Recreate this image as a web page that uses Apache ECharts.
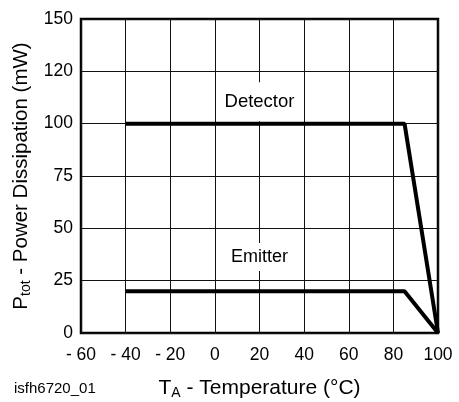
<!DOCTYPE html>
<html><head><meta charset="utf-8">
<script src="https://cdn.jsdelivr.net/npm/echarts@6/dist/echarts.min.js"></script>
<style>html,body{margin:0;padding:0;background:#fff}#c{width:459px;height:402px}</style>
</head><body><div id="c"></div>
<script>
const xTickLabels = ['- 60','- 40','- 20','0','20','40','60','80','100'];
const yTickLabels = ['0','25','50','75','100','120','150'];
const detectorT = [-40, 85, 100];
const detectorP = [100, 100, 0];
const emitterT = [-40, 85, 100];
const emitterP = [20, 20, 0];
const labelNames = ['Detector', 'Emitter'];
const labelT = [20, 20];
const labelP = [110.5, 36.3];

const font = '"Liberation Sans", Arial, Helvetica, sans-serif';
const chart = echarts.init(document.getElementById('c'));
const xMin = -60, xStep = 20, yStep = 25;
const titleRich = (fs) => ({
  m: {fontFamily: font, fontSize: fs, color: '#000'},
  s: {fontFamily: font, fontSize: Math.round(fs * 0.68), color: '#000', verticalAlign: 'bottom', padding: [9, 0, 0, 0]}
});
chart.setOption({
  animation: false,
  backgroundColor: '#fff',
  grid: {left: 81, right: 21, top: 19, bottom: 69, show: true, borderColor: '#000', borderWidth: 2.5,
         backgroundColor: 'transparent', outerBoundsMode: 'none', containLabel: false},
  xAxis: {
    type: 'value', min: -60, max: 100, interval: 20,
    axisLine: {show: false}, axisTick: {show: false},
    splitLine: {show: true, lineStyle: {color: '#111', width: 1}},
    axisLabel: {margin: 13, fontFamily: font, fontSize: 17.5, color: '#000',
      formatter: v => xTickLabels[Math.round((v - xMin) / xStep)]},
    name: '{m|T}{s|A}{m| - Temperature (°C)}', nameLocation: 'middle', nameGap: 44,
    nameTextStyle: {rich: titleRich(21)}
  },
  yAxis: {
    type: 'value', min: 0, max: 150, interval: 25,
    axisLine: {show: false}, axisTick: {show: false},
    splitLine: {show: true, lineStyle: {color: '#111', width: 1}},
    axisLabel: {margin: 8, fontFamily: font, fontSize: 17.5, color: '#000',
      formatter: v => yTickLabels[Math.round(v / yStep)]},
    name: '{m|P}{s|tot}{m| - Power Dissipation (mW)}', nameLocation: 'middle', nameGap: 48, nameRotate: 90,
    nameTextStyle: {rich: titleRich(20.5)}
  },
  graphic: [{type: 'text', left: 14, top: 381, style: {text: 'isfh6720_01', font: '15px ' + font, fill: '#000'}}],
  series: [
    {type: 'line', data: detectorT.map((t, i) => [t, detectorP[i]]), symbol: 'none',
     lineStyle: {color: '#000', width: 4}, z: 5,
     markPoint: {symbol: 'circle', symbolSize: 0, data: [{coord: [labelT[0], labelP[0]], value: labelNames[0]}],
       label: {show: true, position: 'inside', formatter: labelNames[0], fontFamily: font, fontSize: 18.5, color: '#000', backgroundColor: '#fff', padding: [10, 4]}}},
    {type: 'line', data: emitterT.map((t, i) => [t, emitterP[i]]), symbol: 'none',
     lineStyle: {color: '#000', width: 4}, z: 5,
     markPoint: {symbol: 'circle', symbolSize: 0, data: [{coord: [labelT[1], labelP[1]], value: labelNames[1]}],
       label: {show: true, position: 'inside', formatter: labelNames[1], fontFamily: font, fontSize: 18, color: '#000', backgroundColor: '#fff', padding: [5, 4]}}}
  ]
});
</script></body></html>
